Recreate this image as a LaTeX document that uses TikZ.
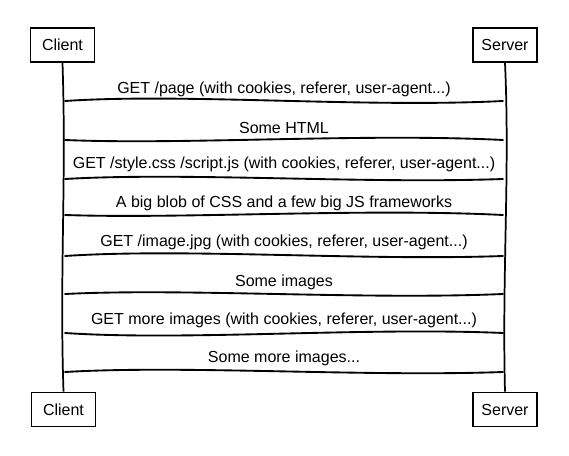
\documentclass[tikz,border=0pt]{standalone}
\usepackage{fontspec}
\setmainfont{Liberation Sans}

\tikzset{
  actor/.style={draw=black, line width=1.4pt, minimum width=48pt, minimum height=25.5pt, inner sep=0pt, font=\fontsize{12}{14}\selectfont},
  life/.style={line width=1.3pt},
  msg/.style={line width=1.4pt, line cap=round},
  lbl/.style={inner sep=0pt, font=\fontsize{12}{14}\selectfont}
}

\begin{document}
\begin{tikzpicture}[x=0.75pt, y=-0.75pt]
		\useasboundingbox (0,0) rectangle (569,456);
		% actors
		\node[actor] (clientTop) at (62.5,45) {Client};
		\node[actor] (serverTop) at (505,45) {Server};
		\node[actor] (clientBot) at (63.5,409.5) {Client};
		\node[actor] (serverBot) at (505,409.5) {Server};
		% lifelines
		\draw[life] (clientTop.south) .. controls +(4,120) and +(-4,-120) .. (clientBot.north);
		\draw[life] (serverTop.south) .. controls +(5,110) and +(-3,-120) .. (serverBot.north);
		% messages
		\foreach \i/\ly/\ty/\a/\b/\txt in {
			1/101/89/-8/7/{GET /page (with cookies, referer, user-agent...)},
			2/140/128/5/-7/{Some HTML},
			3/179/164/-7/5/{GET /style.css /script.js (with cookies, referer, user-agent...)},
			4/215/203/4/-7/{A big blob of CSS and a few big JS frameworks},
			5/256/242/-8/5/{GET /image.jpg (with cookies, referer, user-agent...)},
			6/294/282/-6/6/{Some images},
			7/333/320/8/-6/{GET more images (with cookies, referer, user-agent...)},
			8/372/358/-7/5/{Some more images...}}{
			\coordinate (c\i) at (65,\ly);
			\coordinate (s\i) at (503,\ly);
			\node[lbl] (l\i) at (284,\ty) {\txt};
			\draw[msg] (c\i) .. controls +(120,\a) and +(-140,\b) .. (s\i);
		}
\end{tikzpicture}
\end{document}
